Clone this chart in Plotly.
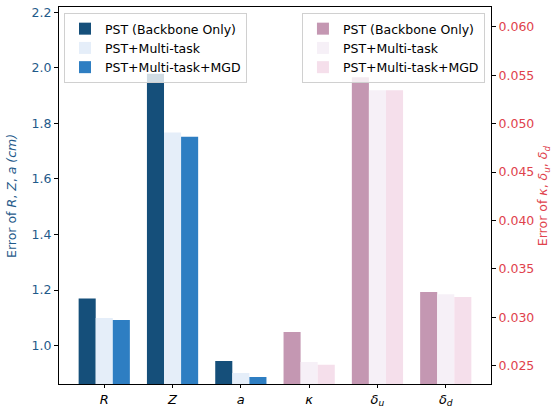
import plotly.graph_objects as go

categories = ["<i>R</i>", "<i>Z</i>", "<i>a</i>", "<i>κ</i>", "<i>δ</i><sub><i>u</i></sub>", "<i>δ</i><sub><i>d</i></sub>"]
series_names = ["PST (Backbone Only)", "PST+Multi-task", "PST+Multi-task+MGD"]

# Left axis (R, Z, a) in cm
left_x = [0, 1, 2]
left_backbone = [1.170, 1.979, 0.945]
left_multitask = [1.100, 1.767, 0.902]
left_mgd = [1.092, 1.752, 0.887]

# Right axis (kappa, delta_u, delta_d)
right_x = [3, 4, 5]
right_backbone = [0.02848, 0.05479, 0.03261]
right_multitask = [0.02538, 0.05345, 0.03238]
right_mgd = [0.02510, 0.05345, 0.03210]

left_colors = ["#154f7a", "#e5eef9", "#2e7ec2"]
right_colors = ["#c497b2", "#f6f0f7", "#f5dfeb"]
offsets = [-0.375, -0.125, 0.125]
W = 0.25

LBLUE = "#1f5a8a"
RED = "#e0424c"
FS = 12.5

fig = go.Figure()
for name, vals, col, off in zip(series_names, [left_backbone, left_multitask, left_mgd], left_colors, offsets):
    fig.add_trace(go.Bar(x=left_x, y=vals, name=name, marker=dict(color=col, line=dict(width=0)),
                         offset=off, width=W, yaxis="y", legend="legend"))
for name, vals, col, off in zip(series_names, [right_backbone, right_multitask, right_mgd], right_colors, offsets):
    fig.add_trace(go.Bar(x=right_x, y=vals, name=name, marker=dict(color=col, line=dict(width=0)),
                         offset=off, width=W, yaxis="y2", legend="legend2"))

fig.update_layout(
    width=554, height=407,
    margin=dict(l=59, r=63, t=7, b=23),
    paper_bgcolor="white", plot_bgcolor="white",
    font=dict(family="DejaVu Sans", size=FS, color="black"),
    barmode="overlay",
    showlegend=True,
    xaxis=dict(range=[-0.6625, 5.6625], tickmode="array", tickvals=list(range(6)), ticktext=categories,
               showline=True, linecolor="black", linewidth=1, mirror=True, ticks="outside",
               ticklen=3, tickcolor="black", showgrid=False, zeroline=False, automargin=False,
               tickfont=dict(family="DejaVu Sans", size=13, color="black")),
    yaxis=dict(range=[0.862, 2.219], tickvals=[1.0, 1.2, 1.4, 1.6, 1.8, 2.0, 2.2],
               ticktext=["1.0", "1.2", "1.4", "1.6", "1.8", "2.0", "2.2"],
               showline=True, linecolor="black", linewidth=1, ticks="outside", ticklen=4,
               tickcolor="black", showgrid=False, zeroline=False, automargin=False,
               tickfont=dict(family="DejaVu Sans", size=FS, color=LBLUE)),
    yaxis2=dict(range=[0.02311, 0.06204], overlaying="y", side="right",
                tickvals=[0.025, 0.030, 0.035, 0.040, 0.045, 0.050, 0.055, 0.060],
                ticktext=["0.025", "0.030", "0.035", "0.040", "0.045", "0.050", "0.055", "0.060"],
                showline=True, linecolor="black", linewidth=1, ticks="outside", ticklen=4,
                tickcolor="black", showgrid=False, zeroline=False, automargin=False,
                tickfont=dict(family="DejaVu Sans", size=FS, color=RED)),
    legend=dict(x=0.0116, y=0.984, xanchor="left", yanchor="top", bgcolor="rgba(255,255,255,0.8)",
                bordercolor="#d0d0d0", borderwidth=1, font=dict(family="DejaVu Sans", size=FS),
                tracegroupgap=0, itemwidth=30),
    legend2=dict(x=0.986, y=0.984, xanchor="right", yanchor="top", bgcolor="rgba(255,255,255,0.8)",
                 bordercolor="#d0d0d0", borderwidth=1, font=dict(family="DejaVu Sans", size=FS),
                 tracegroupgap=0, itemwidth=30),
    annotations=[
        dict(text="Error of <i>R</i>, <i>Z</i>, <i>a</i> <i>(cm)</i>", xref="paper", yref="paper",
             x=-0.11, y=0.5, xanchor="center", yanchor="middle", textangle=-90, showarrow=False,
             font=dict(family="DejaVu Sans", size=FS, color=LBLUE)),
        dict(text="Error of <i>κ</i>, <i>δ</i><sub><i>u</i></sub>, <i>δ</i><sub><i>d</i></sub>",
             xref="paper", yref="paper", x=1.122, y=0.5, xanchor="center", yanchor="middle",
             textangle=-90, showarrow=False, font=dict(family="DejaVu Sans", size=FS, color=RED)),
    ],
)

fig.write_html("out.html", config={"displayModeBar": False},
               post_script="document.body.style.margin='0';document.body.style.overflow='hidden';")
